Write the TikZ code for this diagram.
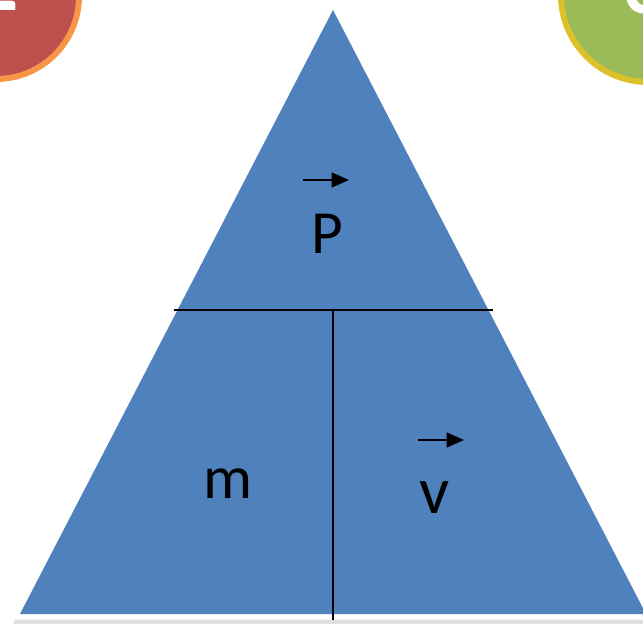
\documentclass[tikz,border=0pt]{standalone}
\usepackage{fontspec}
\setmainfont{Carlito}
\usetikzlibrary{arrows.meta}
\definecolor{triblue}{HTML}{4F81BD}
\definecolor{badgered}{HTML}{C0504D}
\definecolor{badgeorange}{HTML}{F79646}
\definecolor{badgegreen}{HTML}{9BBB59}
\definecolor{badgeyellow}{HTML}{DEC12A}
\begin{document}
\begin{tikzpicture}[x=0.75pt,y=-0.75pt,
  lbl/.style={font=\fontsize{46}{46}\selectfont},
  badgenum/.style={text=white,font=\bfseries\fontsize{64}{64}\selectfont},
  vecarrow/.style={-{Triangle[length=13pt,width=11pt]},line width=1.9pt},
  divider/.style={line width=1.5pt}]
\useasboundingbox (0,0) rectangle (643,627);
\clip (0,0) rectangle (643,627);

% badges in the corners
\fill[badgeorange] (-4,-4) circle (86);
\fill[badgered] (-4,-4) circle (80);
\node[badgenum,anchor=base east,inner sep=0pt] (two) at (19,11) {2};
\fill[badgeyellow] (648,-5) circle (90);
\fill[badgegreen] (648,-5) circle (84);
\node[badgenum,anchor=base west,inner sep=0pt] (six) at (623,14) {6};

% triangle
\fill[black!12] (333,3) -- (13,624) -- (653,624) -- cycle;
\draw[white,line width=8.25pt,line join=miter] (333,10) -- (20,614) -- (646,614) -- cycle;
\fill[triblue] (333,10) -- (20,614) -- (646,614) -- cycle;

% dividers
\coordinate (hl) at (174,310);
\coordinate (hr) at (493,310);
\coordinate (vt) at (333,310);
\coordinate (vb) at (333,620);
\draw[divider] (hl) -- (hr);
\draw[divider] (vt) -- (vb);

% labels
\node[lbl] (p) at (327,234) {P};
\node[lbl] (m) at (228,484) {m};
\node[lbl,font=\fontsize{50}{50}\selectfont] (v) at (435,498) {v};

\coordinate (pa) at (303,180);
\coordinate (pb) at (349,180);
\draw[vecarrow] (pa) -- (pb);
\coordinate (va) at (418,440);
\coordinate (vb2) at (464,440);
\draw[vecarrow] (va) -- (vb2);
\end{tikzpicture}
\end{document}
